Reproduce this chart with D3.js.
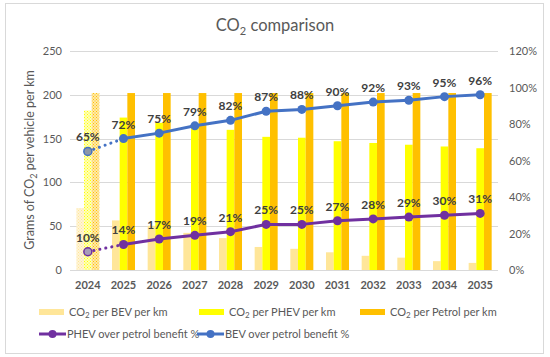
<!DOCTYPE html>
<html><head><meta charset="utf-8">
<script src="https://cdn.jsdelivr.net/npm/d3@7"></script>
<style>
body{margin:0;background:#fff;}
svg{display:block;font-family:Lato,"Open Sans",sans-serif;}
</style></head>
<body><svg id="c" width="550" height="357"></svg>
<script>
const years = ["2024","2025","2026","2027","2028","2029","2030","2031","2032","2033","2034","2035"];
const bevCO2 = [70.7,56.6,50.5,42.4,36.4,26.3,24.2,20.2,16.2,14.1,10.1,8.1];
const phevCO2 = [182,174,168,164,160,152,151,147,145,143,141,139];
const petrolCO2 = [202,202,202,202,202,202,202,202,202,202,202,202];
const phevBenefit = [10,14,17,19,21,25,25,27,28,29,30,31];
const bevBenefit = [65,72,75,79,82,87,88,90,92,93,95,96];
const leftTicks = [0,50,100,150,200,250];
const rightTicks = [0,20,40,60,80,100,120];
const seriesNames = ["bev","phev","petrol"];

const svg = d3.select("#c");
const textCol = "#595959";
const colors = {bev:"#FFE699", phev:"#FFFF00", petrol:"#FFC000"};
const lightBase = {bev:"#FFF4D6", phev:"#FFFFB8", petrol:"#FFE9A8"};

// frame
svg.append("rect").attr("x",5.5).attr("y",3.5).attr("width",538).attr("height",350)
  .attr("fill","#fff").attr("stroke","#D9D9D9");

// patterns for projected 2024 bars
const defs = svg.append("defs");
seriesNames.forEach(s=>{
  const p = defs.append("pattern").attr("id","pat-"+s).attr("patternUnits","userSpaceOnUse")
    .attr("width",3).attr("height",3);
  p.append("rect").attr("width",3).attr("height",3).attr("fill",lightBase[s]);
  p.append("rect").attr("width",1).attr("height",1).attr("fill",colors[s]);
  p.append("rect").attr("x",1.5).attr("y",1.5).attr("width",1).attr("height",1).attr("fill",colors[s]);
});

const x = d3.scaleBand().domain(years).range([70,498]).paddingInner(0.355).paddingOuter(0.1775);
const xs = d3.scaleBand().domain(seriesNames).range([0,x.bandwidth()]);
const y = d3.scaleLinear().domain([0,250]).range([270,51]);
const y2 = d3.scaleLinear().domain([0,120]).range([270,51]);

// grid
svg.append("g").selectAll("line").data(leftTicks).join("line")
  .attr("x1",70).attr("x2",498).attr("y1",d=>Math.round(y(d))+0.5).attr("y2",d=>Math.round(y(d))+0.5)
  .attr("stroke","#D9D9D9").attr("stroke-width",1);

// left axis
const la = svg.append("g").attr("transform","translate(62,0)")
  .call(d3.axisLeft(y).tickValues(leftTicks).tickSize(0).tickPadding(0));
la.select(".domain").remove();
la.selectAll("text").attr("fill",textCol).style("font-size","11px").style("font-family","Lato");

// right axis
const ra = svg.append("g").attr("transform","translate(509,0)")
  .call(d3.axisRight(y2).tickValues(rightTicks).tickSize(0).tickPadding(0).tickFormat(d=>d+"%"));
ra.select(".domain").remove();
ra.selectAll("text").attr("fill",textCol).style("font-size","11px").style("font-family","Lato");

// bars
const barData = [];
years.forEach((yr,i)=>{
  barData.push({yr,s:"bev",v:bevCO2[i],i});
  barData.push({yr,s:"phev",v:phevCO2[i],i});
  barData.push({yr,s:"petrol",v:petrolCO2[i],i});
});
svg.append("g").selectAll("rect").data(barData).join("rect")
  .attr("x",d=>x(d.yr)+xs(d.s))
  .attr("width",xs.bandwidth())
  .attr("y",d=>y(d.v))
  .attr("height",d=>y(0)-y(d.v))
  .attr("fill",d=>d.i===0?`url(#pat-${d.s})`:colors[d.s]);

// x axis
const xa = svg.append("g").attr("transform","translate(0,281)")
  .call(d3.axisBottom(x).tickSize(0).tickPadding(0));
xa.select(".domain").remove();
xa.selectAll("text").attr("fill",textCol).style("font-size","11px").style("font-weight","bold").style("font-family","Lato");

// lines
const cx = d=>x(d)+x.bandwidth()/2;
function drawLine(vals,col,greyFill){
  const pts = years.map((yr,i)=>[cx(yr),y2(vals[i])]);
  const g = svg.append("g");
  g.append("path").attr("d",d3.line()([pts[0],pts[1]])).attr("fill","none")
    .attr("stroke",col).attr("stroke-width",3).attr("stroke-linecap","round").attr("stroke-dasharray","0.1 6");
  g.append("path").attr("d",d3.line()(pts.slice(1))).attr("fill","none")
    .attr("stroke",col).attr("stroke-width",3).attr("stroke-linejoin","round");
  g.selectAll("circle").data(pts).join("circle")
    .attr("cx",d=>d[0]).attr("cy",d=>d[1]).attr("r",(d,i)=>i===0?4:4.5)
    .attr("fill",(d,i)=>i===0?greyFill:col).attr("stroke",col).attr("stroke-width",(d,i)=>i===0?1.5:0);
  g.selectAll("text").data(pts).join("text")
    .attr("x",d=>d[0]).attr("y",d=>d[1]-10).attr("text-anchor","middle")
    .attr("fill","#404040").style("font-size","12px").style("font-weight","bold")
    .text((d,i)=>vals[i]+"%");
}
drawLine(phevBenefit,"#7030A0","#A89CB8");
drawLine(bevBenefit,"#4472C4","#8C97A8");

// title
const t = svg.append("text").attr("x",275).attr("y",31).attr("text-anchor","middle")
  .attr("fill",textCol).style("font-size","16.5px");
t.append("tspan").text("CO");
t.append("tspan").attr("dy",4).style("font-size","11px").text("2");
t.append("tspan").attr("dy",-4).text(" comparison");

// y title
const yt = svg.append("text").attr("transform","translate(34,160) rotate(-90)").attr("text-anchor","middle")
  .attr("fill",textCol).style("font-size","12.5px");
yt.append("tspan").text("Grams of CO");
yt.append("tspan").attr("dy",3).style("font-size","9px").text("2");
yt.append("tspan").attr("dy",-3).text(" per vehicle per km");

// legend
const leg1 = [
  {s:"bev",x:39,label:" per BEV per km"},
  {s:"phev",x:199,label:" per PHEV per km"},
  {s:"petrol",x:360,label:" per Petrol per km"}
];
const lg = svg.append("g");
leg1.forEach(d=>{
  lg.append("rect").attr("x",d.x).attr("y",309).attr("width",25).attr("height",6).attr("fill",colors[d.s]);
  const tt = lg.append("text").attr("x",d.x+30).attr("y",316).attr("fill",textCol).style("font-size","11px");
  tt.append("tspan").text("CO");
  tt.append("tspan").attr("dy",2).style("font-size","8px").text("2");
  tt.append("tspan").attr("dy",-2).text(" "+d.label);
});
const leg2 = [
  {c:"#7030A0",x:39,label:"PHEV over petrol benefit %"},
  {c:"#4472C4",x:197,label:"BEV over petrol benefit %"}
];
leg2.forEach(d=>{
  lg.append("line").attr("x1",d.x).attr("x2",d.x+27).attr("y1",334).attr("y2",334).attr("stroke",d.c).attr("stroke-width",3);
  lg.append("circle").attr("cx",d.x+13.5).attr("cy",334).attr("r",4).attr("fill",d.c);
  lg.append("text").attr("x",d.x+28).attr("y",338).attr("fill",textCol).style("font-size","11px").text(d.label);
});
</script></body></html>
